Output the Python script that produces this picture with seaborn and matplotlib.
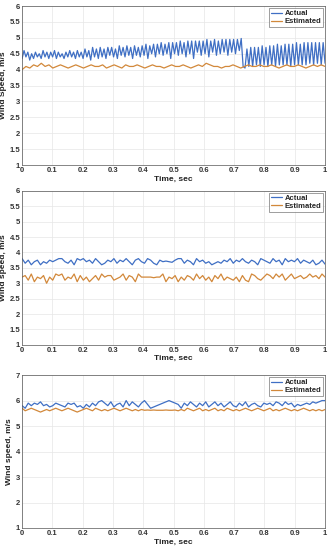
import numpy as np
import pandas as pd
import seaborn as sns
import matplotlib.pyplot as plt

# panel 1 (top)
actual1 = [4.35, 4.6, 4.4, 4.55, 4.3, 4.5, 4.35, 4.55, 4.4, 4.5, 4.35, 4.6, 4.4, 4.55, 4.35, 4.55,
           4.4, 4.6, 4.35, 4.55, 4.4, 4.5, 4.35, 4.55, 4.4, 4.6, 4.4, 4.55, 4.35, 4.6, 4.4, 4.55,
           4.35, 4.65, 4.4, 4.6, 4.3, 4.7, 4.4, 4.65, 4.35, 4.7, 4.4, 4.65, 4.35, 4.7, 4.45, 4.7,
           4.4, 4.65, 4.35, 4.75, 4.45, 4.7, 4.4, 4.75, 4.45, 4.7, 4.35, 4.75, 4.45, 4.7, 4.4, 4.75,
           4.45, 4.8, 4.35, 4.75, 4.5, 4.8, 4.4, 4.8, 4.5, 4.85, 4.45, 4.8, 4.5, 4.85, 4.35, 4.85,
           4.5, 4.85, 4.45, 4.9, 4.5, 4.85, 4.4, 4.9, 4.5, 4.9, 4.35, 4.9, 4.55, 4.9, 4.45, 4.9,
           4.5, 4.95, 4.4, 4.9, 4.55, 4.95, 4.45, 4.9, 4.5, 4.95, 4.55, 4.95, 4.45, 4.95, 4.55, 4.95,
           4.5, 4.95, 4.6, 4.98,
           4.1, 4.05, 4.65, 4.1, 4.7, 4.1, 4.7, 4.15, 4.7, 4.1, 4.75, 4.15, 4.7, 4.1, 4.75, 4.15,
           4.75, 4.1, 4.8, 4.15, 4.75, 4.15, 4.8, 4.15, 4.8, 4.1, 4.8, 4.15, 4.85, 4.15, 4.8, 4.15,
           4.85, 4.15, 4.85, 4.2, 4.85, 4.15, 4.85, 4.2, 4.85, 4.15, 4.85, 4.2]
estimated1 = [4.0, 4.1, 4.05, 4.15, 4.1, 4.2, 4.1, 4.15, 4.05, 4.1, 4.15, 4.1, 4.05, 4.1, 4.15, 4.1,
              4.05, 4.1, 4.15, 4.1, 4.1, 4.15, 4.05, 4.1, 4.15, 4.1, 4.05, 4.15, 4.1, 4.1, 4.15, 4.1,
              4.05, 4.1, 4.15, 4.1, 4.1, 4.05, 4.1, 4.15, 4.1, 4.1, 4.15, 4.1, 4.05, 4.1, 4.15, 4.1,
              4.2, 4.15, 4.1, 4.1, 4.05, 4.1, 4.1, 4.15, 4.1, 4.05, 4.1, 4.15, 4.1, 4.1, 4.15, 4.1,
              4.1, 4.15, 4.1, 4.05, 4.1, 4.15, 4.1, 4.1, 4.15, 4.1, 4.05, 4.1, 4.15, 4.1, 4.15, 4.1]

# panel 2 (middle)
actual2 = [3.8, 3.65, 3.75, 3.6, 3.7, 3.75, 3.6, 3.7, 3.65, 3.75, 3.7, 3.75, 3.8, 3.8, 3.7, 3.65,
           3.75, 3.6, 3.8, 3.75, 3.8, 3.7, 3.75, 3.65, 3.8, 3.7, 3.6, 3.65, 3.75, 3.7, 3.8, 3.65,
           3.75, 3.7, 3.8, 3.7, 3.6, 3.75, 3.8, 3.7, 3.65, 3.8, 3.75, 3.65, 3.6, 3.75, 3.7, 3.72,
           3.7, 3.68, 3.75, 3.8, 3.8, 3.65, 3.75, 3.7, 3.6, 3.8, 3.7, 3.75, 3.65, 3.7, 3.6, 3.65,
           3.7, 3.65, 3.75, 3.7, 3.8, 3.65, 3.75, 3.7, 3.8, 3.7, 3.65, 3.75, 3.7, 3.6, 3.8, 3.75,
           3.7, 3.65, 3.8, 3.7, 3.75, 3.6, 3.8, 3.7, 3.75, 3.7, 3.8, 3.65, 3.75, 3.7, 3.65, 3.75,
           3.6, 3.65, 3.75, 3.62]
estimated2 = [3.2, 3.25, 3.1, 3.3, 3.05, 3.2, 3.15, 3.25, 3.0, 3.2, 3.1, 3.3, 3.25, 3.3, 3.1, 3.2,
              3.15, 3.3, 3.05, 3.25, 3.1, 3.2, 3.05, 3.15, 3.25, 3.1, 3.3, 3.2, 3.25, 3.25, 3.1, 3.15,
              3.2, 3.3, 3.1, 3.25, 3.2, 3.05, 3.3, 3.2, 3.2, 3.2, 3.2, 3.18, 3.2, 3.2, 3.3, 3.05,
              3.2, 3.15, 3.25, 3.05, 3.2, 3.1, 3.25, 3.2, 3.1, 3.3, 3.15, 3.25, 3.1, 3.2, 3.05, 3.25,
              3.15, 3.3, 3.1, 3.2, 3.15, 3.1, 3.2, 3.05, 3.25, 3.1, 3.05, 3.3, 3.25, 3.15, 3.1, 3.2,
              3.3, 3.25, 3.15, 3.3, 3.2, 3.3, 3.1, 3.2, 3.3, 3.15, 3.2, 3.25, 3.15, 3.2, 3.3, 3.2,
              3.25, 3.15, 3.3, 3.2]

# panel 3 (bottom)
actual3 = [5.8, 5.7, 5.9, 5.8, 5.9, 5.85, 5.95, 5.8, 5.85, 5.75, 5.8, 5.9, 5.85, 5.8, 5.75, 5.9,
           5.85, 5.9, 5.75, 5.8, 5.7, 5.85, 5.75, 5.9, 5.8, 5.95, 6.0, 5.9, 5.8, 5.95, 5.75, 5.85,
           5.9, 5.75, 6.0, 5.8, 5.95, 5.85, 5.75, 5.9, 6.0, 5.85, 5.7, 5.75, 5.8, 5.85, 5.9, 5.95,
           6.0, 5.95, 5.9, 5.85, 5.7, 5.9, 5.8, 5.95, 5.85, 5.75, 5.9, 5.8, 5.95, 5.75, 5.85, 5.95,
           5.8, 5.9, 5.75, 5.85, 5.95, 5.8, 5.75, 5.9, 5.8, 5.95, 5.75, 5.85, 5.9, 5.8, 5.75, 5.9,
           5.85, 5.9, 5.8, 5.95, 5.9, 5.8, 5.95, 5.85, 5.9, 5.75, 5.85, 5.8, 5.85, 5.9, 5.85, 5.95,
           5.9, 5.95, 6.0, 6.0]
estimated3 = [5.7, 5.6, 5.65, 5.7, 5.65, 5.6, 5.55, 5.6, 5.65, 5.6, 5.65, 5.7, 5.65, 5.6, 5.65, 5.7,
              5.65, 5.6, 5.55, 5.6, 5.65, 5.7, 5.65, 5.6, 5.7, 5.65, 5.6, 5.65, 5.6, 5.65, 5.7, 5.65,
              5.6, 5.65, 5.7, 5.65, 5.6, 5.65, 5.6, 5.65, 5.62, 5.63, 5.62, 5.63, 5.62, 5.62, 5.62, 5.63,
              5.62, 5.62, 5.63, 5.6, 5.65, 5.6, 5.7, 5.65, 5.6, 5.65, 5.7, 5.6, 5.65, 5.6, 5.65, 5.7,
              5.6, 5.65, 5.6, 5.7, 5.65, 5.6, 5.65, 5.6, 5.65, 5.7, 5.65, 5.6, 5.65, 5.7, 5.65, 5.6,
              5.65, 5.7, 5.6, 5.65, 5.6, 5.65, 5.7, 5.65, 5.6, 5.65, 5.6, 5.65, 5.7, 5.65, 5.6, 5.65,
              5.6, 5.65, 5.6, 5.65]

panels = [
    (actual1, estimated1, "Wind Speed, m/s", (1, 6), np.arange(1, 6.01, 0.5)),
    (actual2, estimated2, "Wind speed, m/s", (1, 6), np.arange(1, 6.01, 0.5)),
    (actual3, estimated3, "Wind speed, m/s", (1, 7), np.arange(1, 7.01, 1)),
]

sns.set_style("white")
plt.rcParams["font.family"] = ["Liberation Sans", "DejaVu Sans"]
plt.rcParams["font.weight"] = "bold"

blue = "#3F6FC4"
orange = "#D2883A"

fig = plt.figure(figsize=(3.3, 5.5), dpi=100)
boxes = [[0.067, 0.70, 0.918, 0.289],
         [0.067, 0.373, 0.918, 0.280],
         [0.067, 0.040, 0.918, 0.278]]

for box, (act, est, ylab, ylim, yt) in zip(boxes, panels):
    ax = fig.add_axes(box)
    df = pd.concat([
        pd.DataFrame({"t": np.linspace(0, 1, len(act)), "v": act, "s": "Actual"}),
        pd.DataFrame({"t": np.linspace(0, 1, len(est)), "v": est, "s": "Estimated"}),
    ])
    sns.lineplot(data=df, x="t", y="v", hue="s", palette=[blue, orange],
                 linewidth=0.9, ax=ax, estimator=None)
    ax.set_xlim(0, 1)
    ax.set_ylim(*ylim)
    ax.set_xticks(np.arange(0, 1.01, 0.1))
    ax.set_xticklabels(["0", "0.1", "0.2", "0.3", "0.4", "0.5", "0.6", "0.7", "0.8", "0.9", "1"])
    ax.set_yticks(yt)
    ax.set_yticklabels([f"{v:g}" for v in yt])
    ax.tick_params(labelsize=5.5, length=2, pad=1.5, direction="in", colors="#333333")
    ax.grid(True, color="#e6e6e6", linewidth=0.5)
    for sp in ax.spines.values():
        sp.set_linewidth(0.5)
        sp.set_color("#555555")
    ax.set_xlabel("Time, sec", fontsize=6, fontweight="bold", labelpad=1, color="#222222")
    ax.set_ylabel(ylab, fontsize=6, fontweight="bold", labelpad=2, color="#222222")
    leg = ax.legend(loc="upper right", fontsize=5.5, frameon=True, fancybox=False,
                    borderpad=0.2, handlelength=1.5, handletextpad=0.3, labelspacing=0.1,
                    borderaxespad=0.3)
    leg.get_frame().set_edgecolor("#555555")
    leg.get_frame().set_linewidth(0.5)
    leg.set_title(None)

fig.savefig("out.png", dpi=100)
